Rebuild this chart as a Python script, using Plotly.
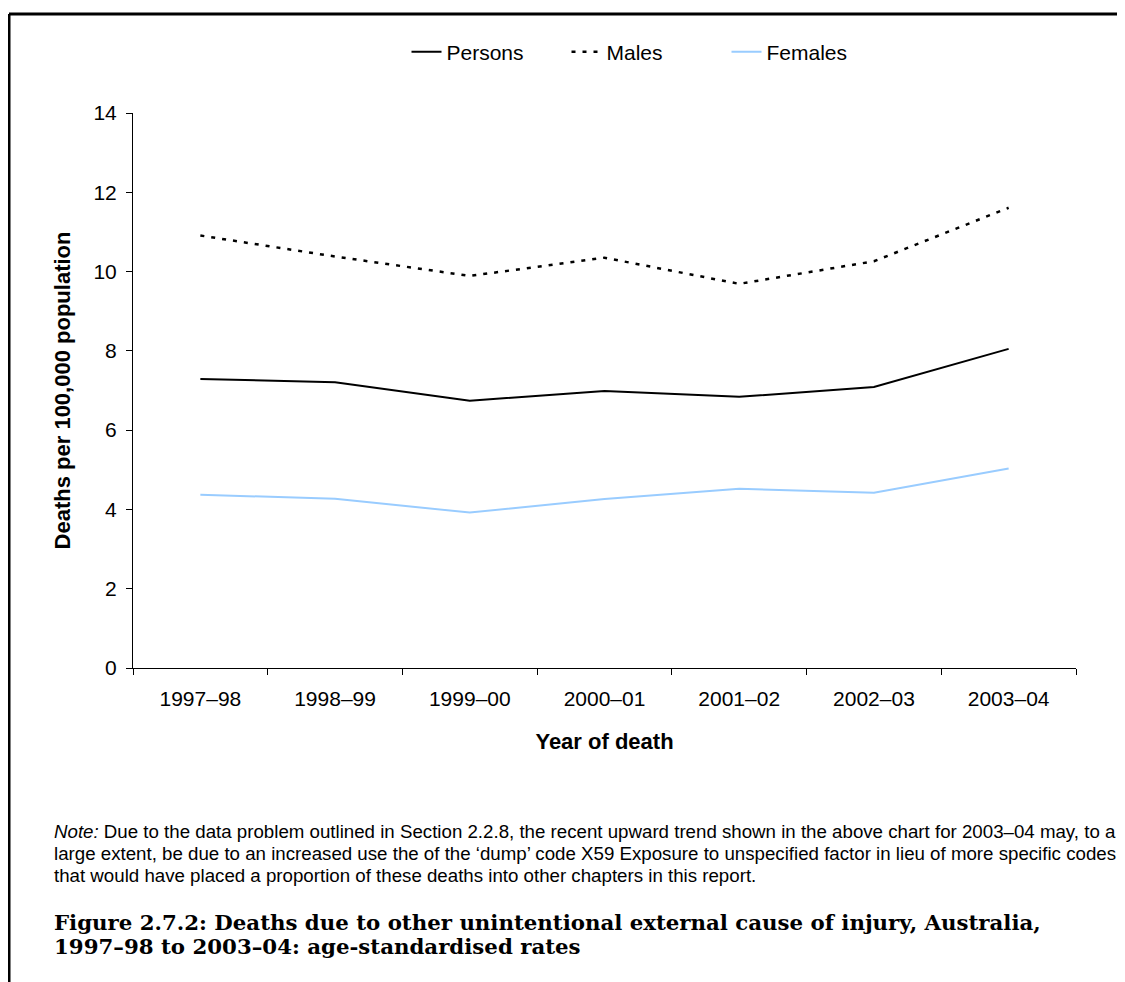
import plotly.graph_objects as go

years = ["1997–98", "1998–99", "1999–00", "2000–01", "2001–02", "2002–03", "2003–04"]
persons = [7.29, 7.21, 6.74, 6.99, 6.84, 7.09, 8.05]
males = [10.91, 10.38, 9.89, 10.35, 9.69, 10.26, 11.61]
females = [4.37, 4.27, 3.92, 4.26, 4.52, 4.42, 5.03]
y_ticks = [0, 2, 4, 6, 8, 10, 12, 14]

note_lines = [
    "<i>Note:</i> Due to the data problem outlined in Section 2.2.8, the recent upward trend shown in the above chart for 2003–04 may, to a",
    "large extent, be due to an increased use the of the ‘dump’ code X59 Exposure to unspecified factor in lieu of more specific codes",
    "that would have placed a proportion of these deaths into other chapters in this report.",
]
title_lines = [
    "Figure 2.7.2: Deaths due to other unintentional external cause of injury, Australia,",
    "1997–98 to 2003–04: age-standardised rates",
]

OFF = 8  # page body margin
W, H = 1125 - OFF, 982 - OFF
L, R, T, B = 133 - OFF, 1076 - OFF, 113 - OFF, 668 - OFF


def px_x(p):
    return (p - OFF - L) / (R - L)


def px_y(p):
    return (B - (p - OFF)) / (B - T)


fig = go.Figure()
fig.add_trace(go.Scatter(x=years, y=persons, name="Persons", mode="lines",
                         line=dict(color="black", width=2)))
fig.add_trace(go.Scatter(x=years, y=males, name="Males", mode="lines",
                         line=dict(color="black", width=2.5, dash="4px,7px")))
fig.add_trace(go.Scatter(x=years, y=females, name="Females", mode="lines",
                         line=dict(color="#99CCFF", width=2)))

font_sans = "Liberation Sans, Arial, sans-serif"

fig.update_layout(
    width=W, height=H,
    margin=dict(l=L, r=W - R, t=T, b=H - B, pad=0),
    paper_bgcolor="white", plot_bgcolor="white",
    font=dict(family=font_sans, size=21, color="black"),
    showlegend=True,
    legend=dict(orientation="h", x=0.5 + 42 / (R - L), xanchor="center", y=px_y(52), yanchor="middle",
                font=dict(size=21), bgcolor="rgba(0,0,0,0)", itemwidth=30,
                entrywidth=115, entrywidthmode="pixels"),
    xaxis=dict(
        type="category", showgrid=False, showline=True, linecolor="black", linewidth=1,
        ticks="outside", tickson="boundaries", ticklen=6, tickcolor="black",
        ticklabelstandoff=12,
        range=[-0.5, 6.5], tickfont=dict(size=21),
        title=dict(text="<b>Year of death</b>", font=dict(size=22), standoff=24),
    ),
    yaxis=dict(
        range=[0, 14], tickvals=y_ticks, showgrid=False, zeroline=False,
        showline=True, linecolor="black", linewidth=1, ticklabelstandoff=5,
        ticks="outside", ticklen=6, tickcolor="black", tickfont=dict(size=21),
        title=dict(text="<b>Deaths per 100,000 population</b>", font=dict(size=22), standoff=16),
    ),
)

# border lines (top and left)
fig.add_shape(type="line", xref="paper", yref="paper",
              x0=px_x(9), x1=px_x(1125), y0=px_y(14), y1=px_y(14),
              line=dict(color="black", width=3))
fig.add_shape(type="line", xref="paper", yref="paper",
              x0=px_x(9), x1=px_x(9), y0=px_y(14), y1=px_y(990),
              line=dict(color="black", width=3))

for i, line in enumerate(note_lines):
    fig.add_annotation(text=line, xref="paper", yref="paper", x=px_x(52), y=px_y(831 + 22 * i),
                       xanchor="left", yanchor="middle", showarrow=False, align="left",
                       font=dict(family=font_sans, size=18.7, color="black"))

for i, line in enumerate(title_lines):
    fig.add_annotation(text="<b>" + line + "</b>", xref="paper", yref="paper", x=px_x(52),
                       y=px_y(922 + 24 * i), xanchor="left", yanchor="middle", showarrow=False,
                       align="left", font=dict(family="DejaVu Serif, serif", size=21.3, color="black"))

fig.write_html("out.html")
